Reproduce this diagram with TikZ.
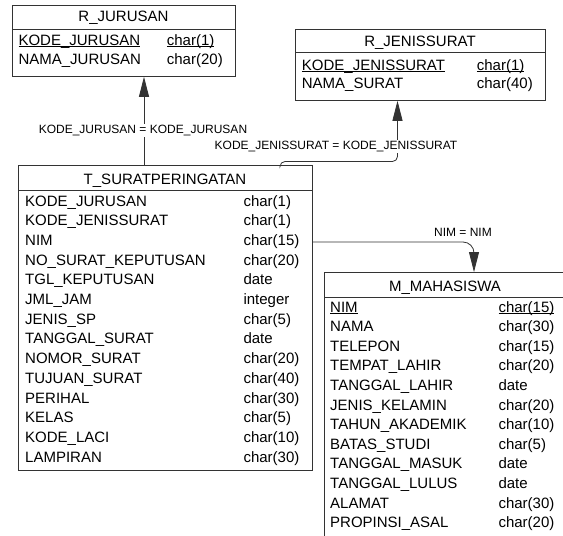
\documentclass[tikz,border=0pt]{standalone}
\usepackage{fontspec}
\setmainfont{Liberation Sans}
\usetikzlibrary{arrows.meta}
\newcommand\pkul[1]{\setbox0\hbox{#1}\rlap{\rule[-2.2pt]{\wd0}{0.9pt}}\box0}
\tikzset{
  tbl/.style={draw=black!80, line width=0.8pt, rectangle, inner sep=0pt, anchor=north west},
  sepline/.style={draw=black!80, line width=0.8pt},
  cell/.style={inner sep=0pt, anchor=base west, font=\fontsize{15}{18}\selectfont},
  ttl/.style={inner sep=0pt, anchor=base, font=\fontsize{15}{18}\selectfont},
  fk/.style={draw=black!80, line width=0.8pt, -{Triangle[length=20pt,width=10pt]}},
  rel/.style={fill=white, inner sep=1pt, font=\fontsize{12}{14}\selectfont}
}
\begin{document}
\begin{tikzpicture}[x=1pt,y=-1pt]
\useasboundingbox (0,0) rectangle (563,536);
\fill[white] (0,0) rectangle (563,536);

% R_JURUSAN
\node[tbl, minimum width=223pt, minimum height=71pt] (rj) at (12,5) {};
\draw[sepline] (12,29.3) -- (235,29.3);
\node[ttl] (rj-t) at (123.5,21.7) {R\_JURUSAN};
\node[cell] (rj-n1) at (18.3,45) {\pkul{KODE\_JURUSAN}};
\node[cell] (rj-y1) at (166.7,45) {\pkul{char(1)}};
\node[cell] (rj-n2) at (18.3,64.5) {NAMA\_JURUSAN};
\node[cell] (rj-y2) at (166.7,64.5) {char(20)};

% R_JENISSURAT
\node[tbl, minimum width=250pt, minimum height=71pt] (rjen) at (295,29) {};
\draw[sepline] (295,52.5) -- (545,52.5);
\node[ttl] (rjen-t) at (420,46.5) {R\_JENISSURAT};
\node[cell] (rjen-n1) at (301.7,70) {\pkul{KODE\_JENISSURAT}};
\node[cell] (rjen-y1) at (476.7,70) {\pkul{char(1)}};
\node[cell] (rjen-n2) at (301.7,88.5) {NAMA\_SURAT};
\node[cell] (rjen-y2) at (476.7,88.5) {char(40)};

% T_SURATPERINGATAN
\node[tbl, minimum width=294pt, minimum height=305pt] (t) at (18,165) {};
\draw[sepline] (18,190) -- (312,190);
\node[ttl] (t-t) at (165,184) {T\_SURATPERINGATAN};
\foreach \nm/\ty [count=\i] in {KODE\_JURUSAN/char(1), KODE\_JENISSURAT/char(1), NIM/char(15),
  NO\_SURAT\_KEPUTUSAN/char(20), TGL\_KEPUTUSAN/date, JML\_JAM/integer, JENIS\_SP/char(5),
  TANGGAL\_SURAT/date, NOMOR\_SURAT/char(20), TUJUAN\_SURAT/char(40), PERIHAL/char(30),
  KELAS/char(5), KODE\_LACI/char(10), LAMPIRAN/char(30)} {
  \node[cell] (t-n\i) at (25,{206+(\i-1)*19.7}) {\nm};
  \node[cell] (t-y\i) at (243.3,{206+(\i-1)*19.7}) {\ty};
}

% M_MAHASISWA
\node[tbl, minimum width=242pt, minimum height=280pt] (m) at (324,272) {};
\draw[sepline] (324,297.5) -- (566,297.5);
\node[ttl] (m-t) at (445,291) {M\_MAHASISWA};
\node[cell] (m-n1) at (330,312) {\pkul{NIM}};
\node[cell] (m-y1) at (498.3,312) {\pkul{char(15)}};
\foreach \nm/\ty [count=\i from 2] in {NAMA/char(30), TELEPON/char(15), TEMPAT\_LAHIR/char(20),
  TANGGAL\_LAHIR/date, JENIS\_KELAMIN/char(20), TAHUN\_AKADEMIK/char(10), BATAS\_STUDI/char(5),
  TANGGAL\_MASUK/date, TANGGAL\_LULUS/date, ALAMAT/char(30), PROPINSI\_ASAL/char(20)} {
  \node[cell] (m-n\i) at (330,{312+(\i-1)*19.6}) {\nm};
  \node[cell] (m-y\i) at (498.3,{312+(\i-1)*19.6}) {\ty};
}

% connectors
\draw[fk] (t.north -| 144,0) -- (rj.south -| 144,0);
\node[rel] (l1) at (143,130.5) {KODE\_JURUSAN = KODE\_JURUSAN};

\draw[fk, rounded corners=5pt] (t.north -| 280,0) -- (280,161.5) -- (397.5,161.5) -- (rjen.south -| 397.5,0);
\node[rel] (l2) at (336,146.7) {KODE\_JENISSURAT = KODE\_JENISSURAT};

\draw[fk, rounded corners=11pt] (t.east |- 0,242) -- (474,242) -- (m.north -| 474,0);
\node[rel] (l3) at (463,232) {NIM = NIM};
\end{tikzpicture}
\end{document}
